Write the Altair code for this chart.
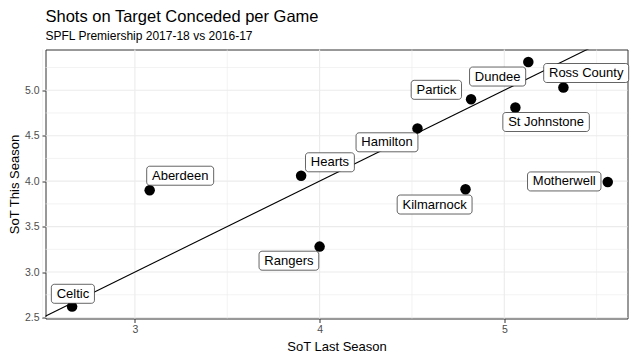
import altair as alt
import pandas as pd

# ---------------- data ----------------
teams = ["Aberdeen", "Celtic", "Dundee", "Hamilton", "Hearts", "Kilmarnock",
         "Motherwell", "Partick", "Rangers", "Ross County", "St Johnstone"]
sot_last = [3.08, 2.66, 5.13, 4.53, 3.90, 4.79, 5.56, 4.82, 4.00, 5.32, 5.06]
sot_this = [3.90, 2.62, 5.31, 4.58, 4.06, 3.91, 3.99, 4.90, 3.28, 5.03, 4.81]

x_ticks = [3, 4, 5]
y_ticks = [2.5, 3.0, 3.5, 4.0, 4.5, 5.0]
x_minor = [2.5, 3.5, 4.5, 5.5]
y_minor = [2.75, 3.25, 3.75, 4.25, 4.75, 5.25]
ref_line = [2.4, 5.8]  # y = x reference line end points

# ---------------- layout / style ----------------
X_DOMAIN = [2.516, 5.667]
Y_DOMAIN = [2.489, 5.448]
W, H = 582, 269
FONT = "Liberation Sans"
LABEL_FS = 13
LABEL_PAD = 5.3
LABEL_H = 19

# label box centre offsets from the point, in pixels (repel-style placement)
label_offsets = {
    "Aberdeen": (30.5, -14.5),
    "Celtic": (0.8, -12.8),
    "Dundee": (-30.7, 14.5),
    "Hamilton": (-30.5, 13.9),
    "Hearts": (28.8, -13.4),
    "Kilmarnock": (-30.9, 15.2),
    "Motherwell": (-43.5, -0.6),
    "Partick": (-34.7, -9.5),
    "Rangers": (-30.7, 14.1),
    "Ross County": (22.8, -14.5),
    "St Johnstone": (30.7, 14.5),
}

# Arial / Liberation Sans advance widths (em)
AW = {'A': .667, 'B': .667, 'C': .722, 'D': .722, 'H': .722, 'J': .5, 'K': .667,
      'M': .833, 'P': .667, 'R': .722, 'S': .667, 'a': .556, 'b': .556, 'c': .5,
      'd': .556, 'e': .556, 'g': .556, 'h': .556, 'i': .222, 'k': .5, 'l': .222,
      'm': .833, 'n': .556, 'o': .556, 'r': .333, 's': .5, 't': .278, 'u': .556,
      'w': .722, 'y': .5, ' ': .278}

kx = W / (X_DOMAIN[1] - X_DOMAIN[0])
ky = H / (Y_DOMAIN[1] - Y_DOMAIN[0])

rows = []
for t, xv, yv in zip(teams, sot_last, sot_this):
    dx, dy = label_offsets[t]
    tw = sum(AW.get(c, .556) for c in t) * LABEL_FS
    hw = tw / 2 + LABEL_PAD
    hh = LABEL_H / 2
    lx = xv + dx / kx
    ly = yv - dy / ky
    rows.append(dict(team=t, last=xv, this=yv, lx=lx, ly=ly,
                     bx1=lx - hw / kx, bx2=lx + hw / kx,
                     by1=ly - hh / ky, by2=ly + hh / ky))
df = pd.DataFrame(rows)

xs = alt.Scale(domain=X_DOMAIN, nice=False, zero=False)
ys = alt.Scale(domain=Y_DOMAIN, nice=False, zero=False)

x_axis = alt.Axis(values=x_ticks, format="d", title="SoT Last Season")
y_axis = alt.Axis(values=y_ticks, format=".1f", title="SoT This Season")

minor_x = alt.Chart(pd.DataFrame({"v": x_minor})).mark_rule(
    color="#EBEBEB", strokeWidth=0.6).encode(x=alt.X("v:Q", scale=xs, axis=x_axis))
minor_y = alt.Chart(pd.DataFrame({"v": y_minor})).mark_rule(
    color="#EBEBEB", strokeWidth=0.6).encode(y=alt.Y("v:Q", scale=ys, axis=y_axis))
major_x = alt.Chart(pd.DataFrame({"v": x_ticks})).mark_rule(
    color="#EBEBEB", strokeWidth=1.1).encode(x=alt.X("v:Q", scale=xs, axis=x_axis))
major_y = alt.Chart(pd.DataFrame({"v": y_ticks})).mark_rule(
    color="#EBEBEB", strokeWidth=1.1).encode(y=alt.Y("v:Q", scale=ys, axis=y_axis))

line = alt.Chart(pd.DataFrame({"v": ref_line})).mark_line(
    color="black", strokeWidth=1.1, clip=True).encode(
    x=alt.X("v:Q", scale=xs, axis=x_axis), y=alt.Y("v:Q", scale=ys, axis=y_axis))

base = alt.Chart(df)
points = base.mark_circle(size=110, color="black", opacity=1).encode(
    x=alt.X("last:Q", scale=xs, axis=x_axis), y=alt.Y("this:Q", scale=ys, axis=y_axis))

boxes = base.mark_rect(fill="white", stroke="#222222", strokeWidth=0.7,
                       cornerRadius=3).encode(
    x=alt.X("bx1:Q", scale=xs, axis=x_axis), x2="bx2:Q",
    y=alt.Y("by1:Q", scale=ys, axis=y_axis), y2="by2:Q")

texts = base.mark_text(font=FONT, fontSize=LABEL_FS, color="black",
                       align="center", baseline="middle").encode(
    x=alt.X("lx:Q", scale=xs, axis=x_axis), y=alt.Y("ly:Q", scale=ys, axis=y_axis),
    text="team:N")

chart = alt.layer(minor_x, minor_y, major_x, major_y, line, points, boxes, texts).properties(
    width=W, height=H,
    autosize=alt.AutoSizeParams(type="none"),
    padding={"left": 37.5, "top": 41.5, "right": 4.5, "bottom": 34},
    title=alt.TitleParams(
        text="Shots on Target Conceded per Game",
        subtitle="SPFL Premiership 2017-18 vs 2016-17",
        anchor="start", frame="group", font=FONT, fontSize=16.5, fontWeight="normal",
        color="black", subtitleFont=FONT, subtitleFontSize=12, subtitleColor="black",
        offset=7, subtitlePadding=5.2),
).configure_view(
    stroke="#333333", strokeWidth=1, fill="white"
).configure_axis(
    grid=False, domain=False, tickColor="#333333", tickSize=4, tickWidth=1,
    labelFont=FONT, labelFontSize=10.5, labelColor="#4D4D4D", labelPadding=2.5,
    titleFont=FONT, titleFontSize=13, titleFontWeight="normal", titleColor="black",
).configure_axisX(titlePadding=5, labelPadding=2
).configure_axisY(titlePadding=3)

chart.save("out.html", embed_options={"renderer": "svg", "actions": False})
